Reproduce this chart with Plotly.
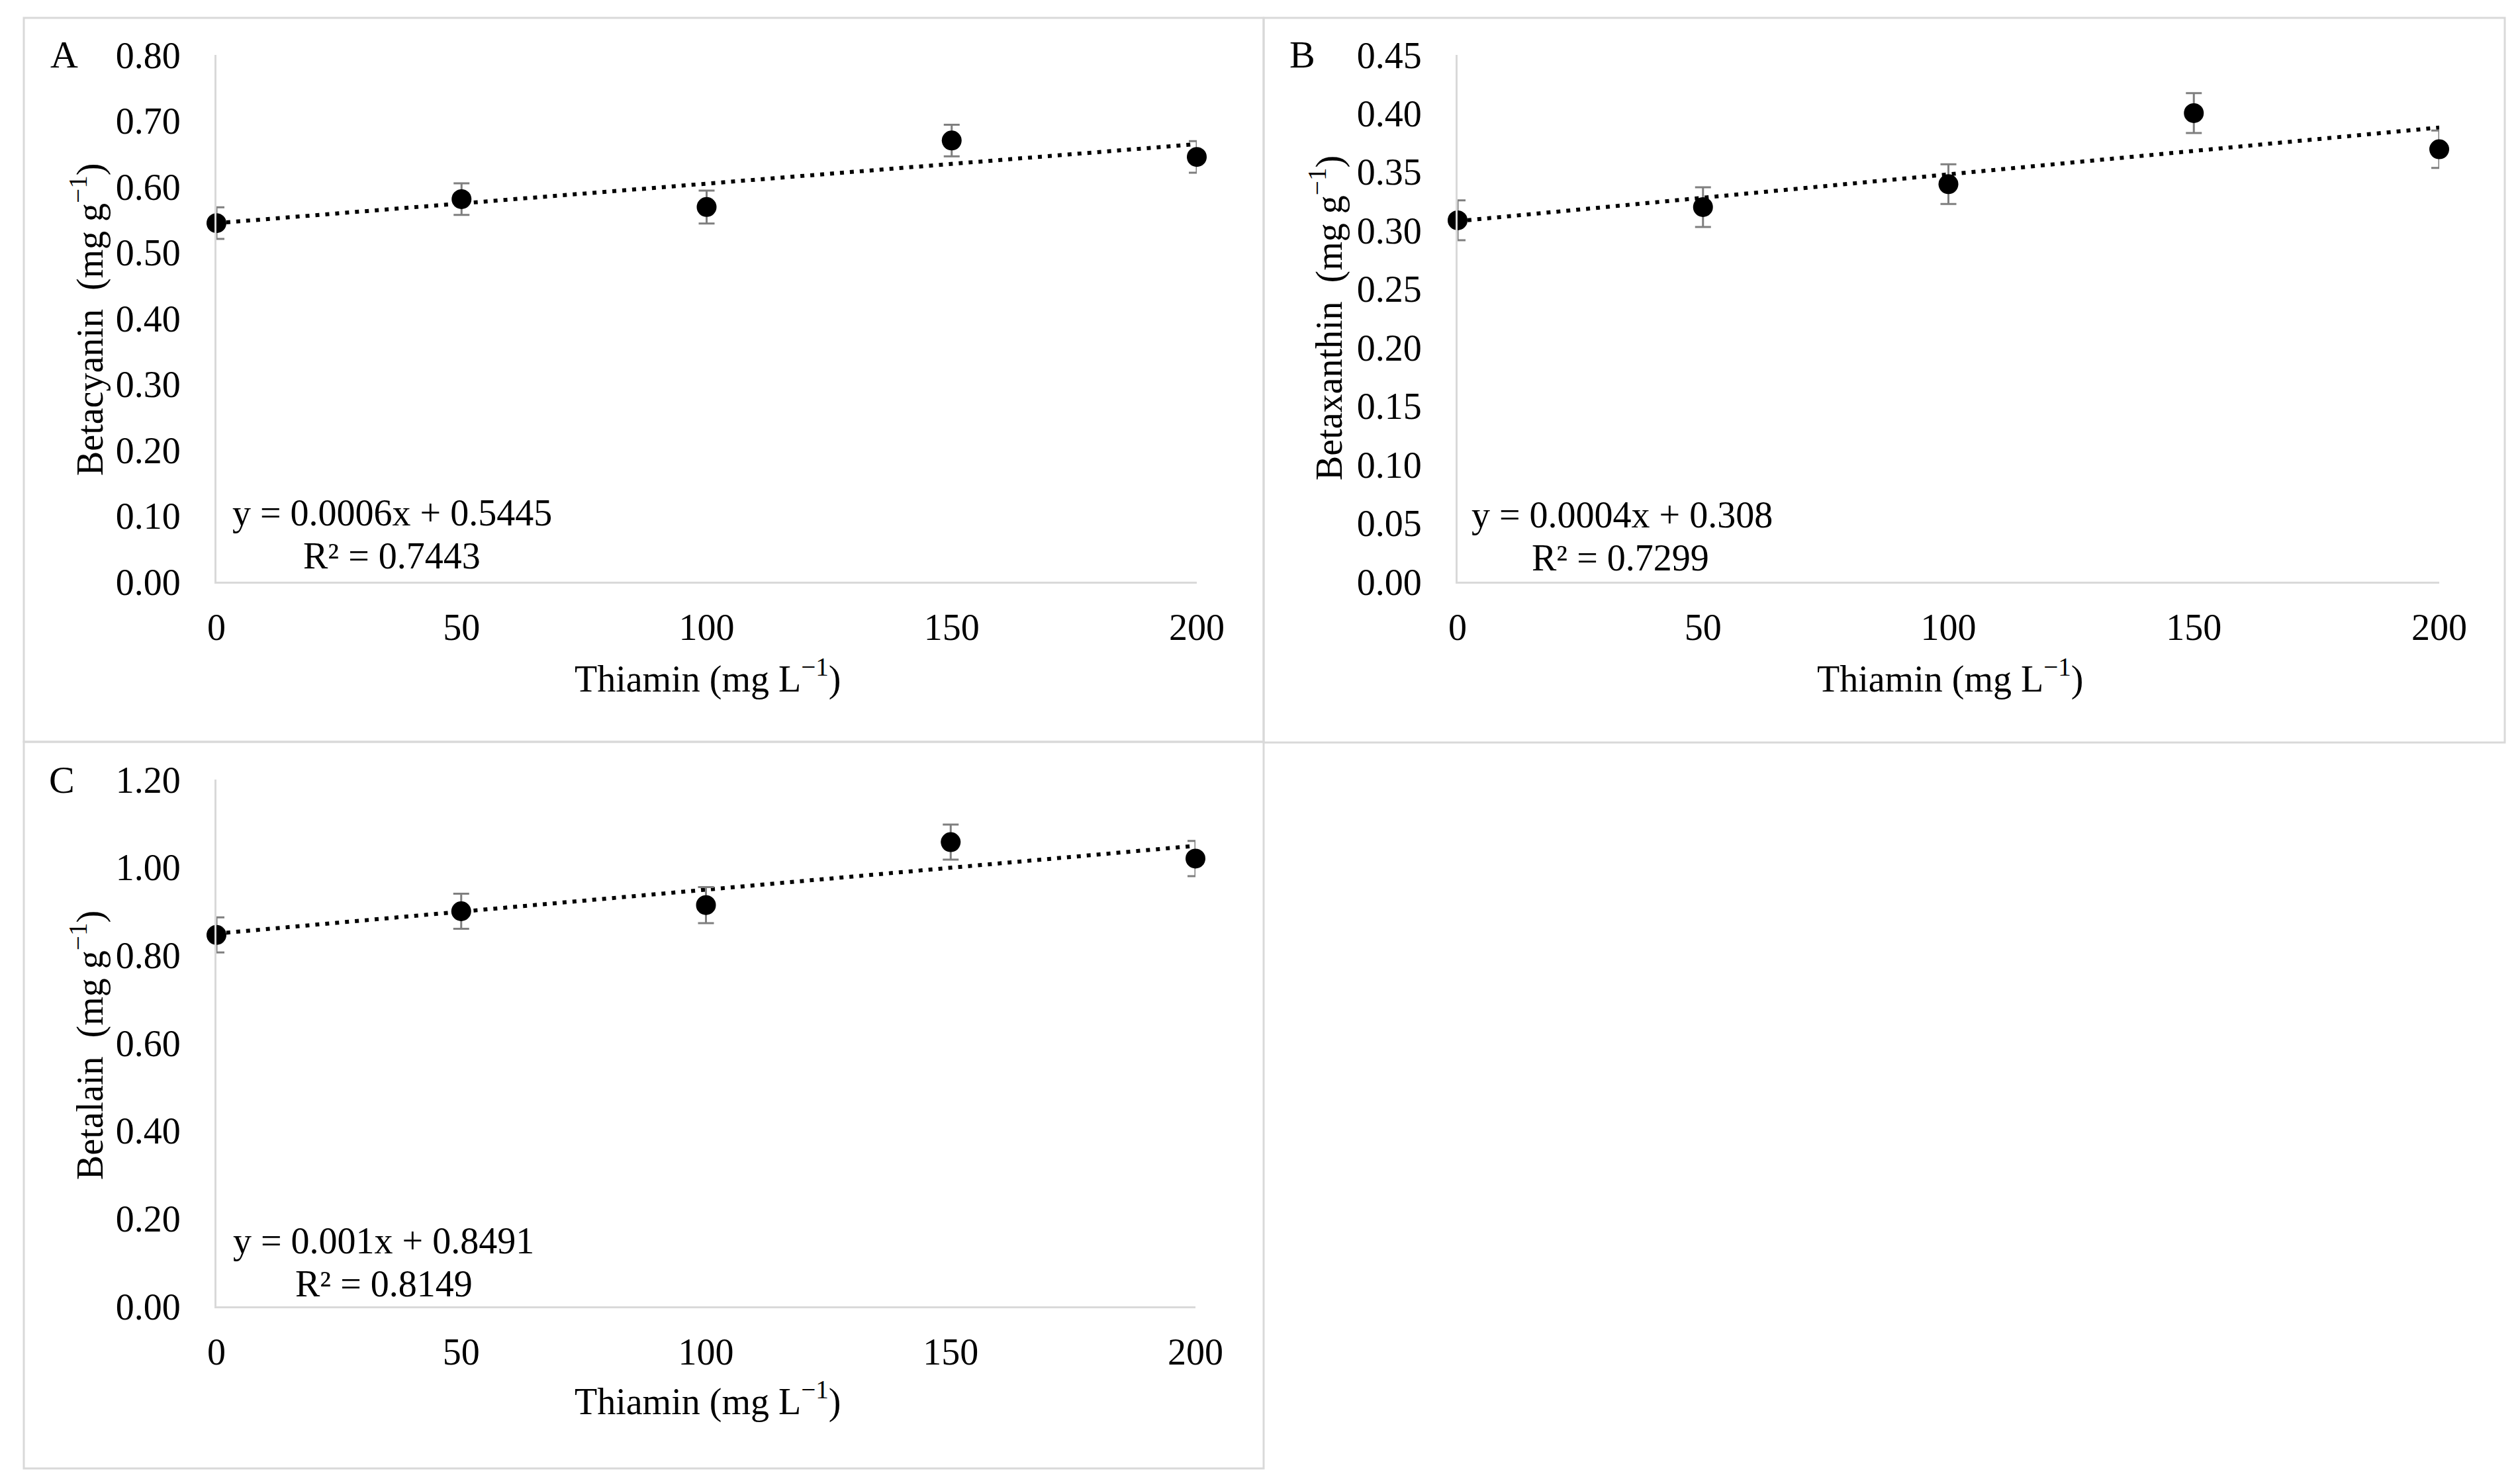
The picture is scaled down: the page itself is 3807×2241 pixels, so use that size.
import plotly.graph_objects as go

# ---------------- data ----------------
thiamin = [0, 50, 100, 150, 200]
x_ticks = [0, 50, 100, 150, 200]

betacyanin = [0.5445, 0.581, 0.569, 0.670, 0.645]
betacyanin_err = [0.024, 0.024, 0.025, 0.024, 0.024]
betacyanin_trend = [0.5445, 0.6645]   # at x = 0 and 200
betacyanin_eq = ["y = 0.0006x + 0.5445", "R² = 0.7443"]

betaxanthin = [0.3087, 0.320, 0.3396, 0.4003, 0.3694]
betaxanthin_err = [0.017, 0.017, 0.017, 0.017, 0.016]
betaxanthin_trend = [0.308, 0.388]
betaxanthin_eq = ["y = 0.0004x + 0.308", "R² = 0.7299"]

betalain = [0.846, 0.900, 0.914, 1.0575, 1.020]
betalain_err = [0.040, 0.040, 0.041, 0.040, 0.040]
betalain_trend = [0.8491, 1.0491]
betalain_eq = ["y = 0.001x + 0.8491", "R² = 0.8149"]

trend_x = [0, 200]
panel_letters = ["A", "B", "C"]
y_titles = ["Betacyanin  (mg g<sup>−1</sup>)", "Betaxanthin  (mg g<sup>−1</sup>)", "Betalain  (mg g<sup>−1</sup>)"]
x_title = "Thiamin (mg L<sup>−1</sup>)"
y_ranges = [(0, 0.8, 0.1), (0, 0.45, 0.05), (0, 1.2, 0.2)]

# ---------------- layout geometry ----------------
W, H = 3807, 2241
FONT = "Liberation Serif, Times New Roman, serif"
FS = 56

def px_x(p):
    return p / W

def px_y(p):
    return 1 - p / H

domains = [
    ((327, 1808), (83, 879)),
    ((2202, 3685), (83, 879)),
    ((327, 1806), (1178, 1974)),
]
boxes = [(36, 27, 1909, 1121), (1909, 27, 3784, 1122), (36, 1121, 1909, 2219)]
letter_pos = [(97, 83), (1967, 83), (93, 1178)]
eq_pos = [((592, 775), (592, 840)), ((2450, 778), (2448, 843)), ((579, 1875), (580, 1940))]
xtitle_pos = [(1069, 1022), (2946, 1022), (1069, 2114)]
ytitle_pos = [(132, 483), (2004, 481), (132, 1580)]

series = [
    (betacyanin, betacyanin_err, betacyanin_trend, betacyanin_eq),
    (betaxanthin, betaxanthin_err, betaxanthin_trend, betaxanthin_eq),
    (betalain, betalain_err, betalain_trend, betalain_eq),
]

fig = go.Figure()
layout = dict(
    width=W, height=H,
    margin=dict(l=0, r=0, t=0, b=0, pad=0, autoexpand=False),
    paper_bgcolor="white", plot_bgcolor="white",
    showlegend=False,
    font=dict(family=FONT, size=FS, color="black"),
)
shapes = []
annotations = []

def ann(text, x, y, size=FS, angle=0):
    return dict(text=text, x=px_x(x), y=px_y(y), xref="paper", yref="paper",
                showarrow=False, xanchor="center", yanchor="middle", textangle=angle,
                font=dict(size=size, family=FONT, color="black"))

for i, (vals, errs, trend, eq) in enumerate(series):
    n = "" if i == 0 else str(i + 1)
    xa, ya = "x" + n, "y" + n
    (dx0, dx1), (dy0, dy1) = domains[i]
    y0, y1, dt = y_ranges[i]

    fig.add_trace(go.Scatter(
        x=trend_x, y=trend, mode="lines", xaxis=xa, yaxis=ya,
        line=dict(color="black", width=6, dash="6px,9px"),
        hoverinfo="skip", cliponaxis=False,
    ))
    fig.add_trace(go.Scatter(
        x=thiamin, y=vals, mode="markers", xaxis=xa, yaxis=ya,
        marker=dict(color="black", size=30, symbol="circle"),
        error_y=dict(type="data", array=errs, visible=True, color="#7f7f7f", thickness=3, width=12),
        cliponaxis=False,
    ))

    layout["xaxis" + n] = dict(
        domain=[px_x(dx0), px_x(dx1)], anchor=ya, range=[0, 200],
        tickvals=x_ticks, showgrid=False, zeroline=False, automargin=False,
        showline=True, linecolor="#d9d9d9", linewidth=3, ticks="",
        ticklabelstandoff=18, tickfont=dict(size=FS, family=FONT, color="black"),
    )
    layout["yaxis" + n] = dict(
        domain=[px_y(dy1), px_y(dy0)], anchor=xa, range=[y0, y1],
        tick0=0, dtick=dt, tickformat=".2f", showgrid=False, zeroline=False, automargin=False,
        showline=True, linecolor="#d9d9d9", linewidth=3, ticks="",
        ticklabelstandoff=40, tickfont=dict(size=FS, family=FONT, color="black"),
    )

    bx0, by0, bx1, by1 = boxes[i]
    shapes.append(dict(type="rect", xref="paper", yref="paper",
                       x0=px_x(bx0), x1=px_x(bx1), y0=px_y(by1), y1=px_y(by0),
                       line=dict(color="#d9d9d9", width=3), fillcolor="rgba(0,0,0,0)"))

    annotations.append(ann(panel_letters[i], *letter_pos[i], size=58))
    for (ex, ey), line in zip(eq_pos[i], eq):
        annotations.append(ann(line, ex, ey))
    annotations.append(ann(x_title, *xtitle_pos[i]))
    annotations.append(ann(y_titles[i], *ytitle_pos[i], angle=-90))

layout["shapes"] = shapes
layout["annotations"] = annotations
fig.update_layout(**layout)
fig.write_html("out.html", config={"displayModeBar": False},
               post_script="document.body.style.margin='0';")
